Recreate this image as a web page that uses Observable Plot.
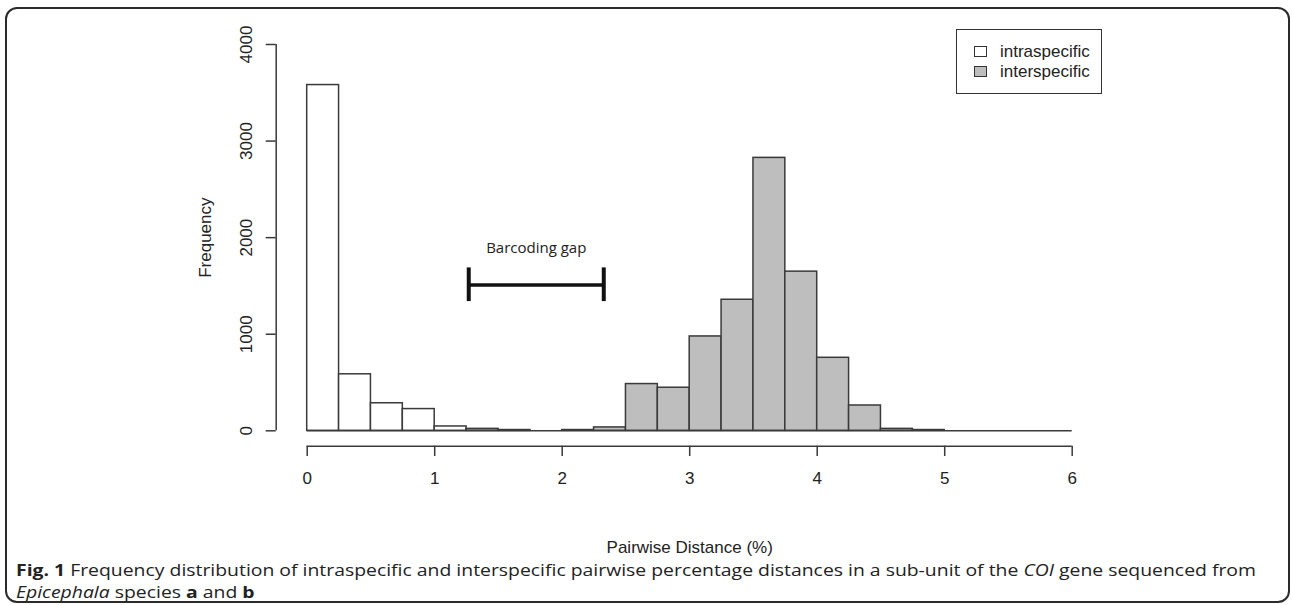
<!DOCTYPE html>
<html><head><meta charset="utf-8">
<script src="https://cdn.jsdelivr.net/npm/d3@7"></script>
<script src="https://cdn.jsdelivr.net/npm/@observablehq/plot@0.6"></script>
<style>
body{margin:0;background:#fff;}
#wrap{position:relative;width:1292px;height:605px;overflow:hidden;background:#fff;}
#chart{position:absolute;left:0;top:0;}
#border{position:absolute;left:5px;top:7px;width:1285px;height:596px;border:2px solid #2b2b2b;border-radius:12px;box-sizing:border-box;pointer-events:none;}
#legend{position:absolute;left:956px;top:29px;width:146px;height:65px;border:1.5px solid #333;box-sizing:border-box;font-family:"Liberation Sans",Arial,sans-serif;font-size:17px;color:#222;}
.lrow{position:absolute;left:17px;height:20px;line-height:20px;white-space:nowrap;}
.lbox{display:inline-block;width:11px;height:9px;border:1.5px solid #333;vertical-align:middle;margin-right:13px;position:relative;top:-1px;}
#caption{position:absolute;left:16px;top:559px;font-family:"Open Sans",sans-serif;font-size:15.5px;line-height:22px;color:#222;white-space:nowrap;transform-origin:0 0;}
</style></head>
<body>
<div id="wrap">
  <div id="chart"></div>
  <div id="legend"></div>
  <div id="caption"></div>
  <div id="border"></div>
</div>
<script>
// ---- data ----
const binWidth = 0.25;
const binStarts = [0,0.25,0.5,0.75,1,1.25,1.5,1.75,2,2.25,2.5,2.75,3,3.25,3.5,3.75,4,4.25,4.5,4.75,5,5.25,5.5,5.75];
const intraspecific = [3580,585,285,225,45,15,5,0,0,0,0,0,0,0,0,0,0,0,0,0,0,0,0,0];
const interspecific = [0,0,0,0,0,20,8,0,8,35,484,446,977,1357,2826,1648,756,262,20,8,0,0,0,0];
const seriesNames = ["intraspecific","interspecific"];
const seriesFills = ["#ffffff","#bebebe"];
const xTicks = [0,1,2,3,4,5,6];
const yTicks = [0,1000,2000,3000,4000];
const gapRange = [1.267, 2.326];
const gapLevel = 1510;
const gapCaps = [1338, 1687];
const gapLabel = "Barcoding gap";
const gapLabelY = 1895;

const toBins = (vals, name) => binStarts.map((s,i)=>({x1:s, x2:s+binWidth, count:vals[i], series:name}));
const intraBins = toBins(intraspecific, seriesNames[0]).filter(d => d.count > 0);
const interBins = toBins(interspecific, seriesNames[1]).filter(d => d.count > 0 && d.x1 >= 1.25);

const W = 1292, H = 605;
const mL = 306.7, mR = 220.3, mT = 44, mB = 174.7;
const frameW = W - mL - mR, frameH = H - mT - mB;
const axisCol = "#3a3a3a";
const font = "Liberation Sans, Arial, sans-serif";

const plot = Plot.plot({
  width: W, height: H,
  marginLeft: mL, marginRight: mR, marginTop: mT, marginBottom: mB,
  x: {domain: [0,6], axis: null},
  y: {domain: [0,4000], axis: null},
  style: {fontFamily: font, background: "transparent"},
  marks: [
    Plot.ruleY([0], {x1: binStarts[0], x2: binStarts[binStarts.length-1] + binWidth, stroke: axisCol, strokeWidth: 1.5}),
    Plot.rectY(intraBins, {x1:"x1", x2:"x2", y1:0, y2:"count", fill: seriesFills[0], stroke: axisCol, strokeWidth: 1.5}),
    Plot.rectY(interBins, {x1:"x1", x2:"x2", y1:0, y2:"count", fill: seriesFills[1], stroke: axisCol, strokeWidth: 1.5}),
    // y axis
    Plot.ruleX([0], {y1: 0, y2: 4000, dx: -31, stroke: axisCol, strokeWidth: 1.5}),
    Plot.tickY(yTicks, {y: d=>d, insetLeft: -41, insetRight: frameW + 31, stroke: axisCol, strokeWidth: 1.5}),
    Plot.text(yTicks, {y: d=>d, frameAnchor: "left", dx: -61, rotate: -90, text: d=>String(d), textAnchor: "middle", lineAnchor: "middle", fontSize: 17, fill: "#222"}),
    Plot.text(["Frequency"], {frameAnchor: "left", dx: -102, rotate: -90, text: d=>d, textAnchor: "middle", lineAnchor: "middle", fontSize: 17, fill: "#222"}),
    // x axis
    Plot.ruleY([0], {x1: 0, x2: 6, dy: 15.4, stroke: axisCol, strokeWidth: 1.5}),
    Plot.tickX(xTicks, {x: d=>d, insetTop: frameH + 15.4, insetBottom: -25.7, stroke: axisCol, strokeWidth: 1.5}),
    Plot.text(xTicks, {x: d=>d, frameAnchor: "bottom", dy: 48, text: d=>String(d), lineAnchor: "middle", fontSize: 17, fill: "#222"}),
    Plot.text(["Pairwise Distance (%)"], {frameAnchor: "bottom", dy: 117, text: d=>d, lineAnchor: "middle", fontSize: 17, fill: "#222"}),
    // barcoding gap
    Plot.ruleY([gapLevel], {x1: gapRange[0], x2: gapRange[1], stroke: "#111", strokeWidth: 3.5}),
    Plot.ruleX(gapRange, {x: d=>d, y1: gapCaps[0], y2: gapCaps[1], stroke: "#111", strokeWidth: 4}),
    Plot.text([gapLabel], {x: (gapRange[0]+gapRange[1])/2, y: gapLabelY, text: d=>d, fontFamily: "Open Sans, sans-serif", fontSize: 15, fill: "#222", lineAnchor: "middle"})
  ]
});
document.getElementById("chart").appendChild(plot);

// legend
const leg = document.getElementById("legend");
seriesNames.forEach((n,i)=>{
  const r = document.createElement("div");
  r.className = "lrow";
  r.style.top = (12 + i*20) + "px";
  r.innerHTML = `<span class="lbox" style="background:${seriesFills[i]}"></span>${n}`;
  leg.appendChild(r);
});

// caption
const cap = document.getElementById("caption");
cap.innerHTML =
  '<span id="l1"><b>Fig. 1</b> Frequency distribution of intraspecific and interspecific pairwise percentage distances in a sub-unit of the <i>COI</i> gene sequenced from</span><br><i>Epicephala</i> species <b>a</b> and <b>b</b>';
const w1 = document.getElementById("l1").getBoundingClientRect().width;
cap.style.transform = `scaleX(${(1240 / w1).toFixed(4)})`;
</script>
</body></html>
